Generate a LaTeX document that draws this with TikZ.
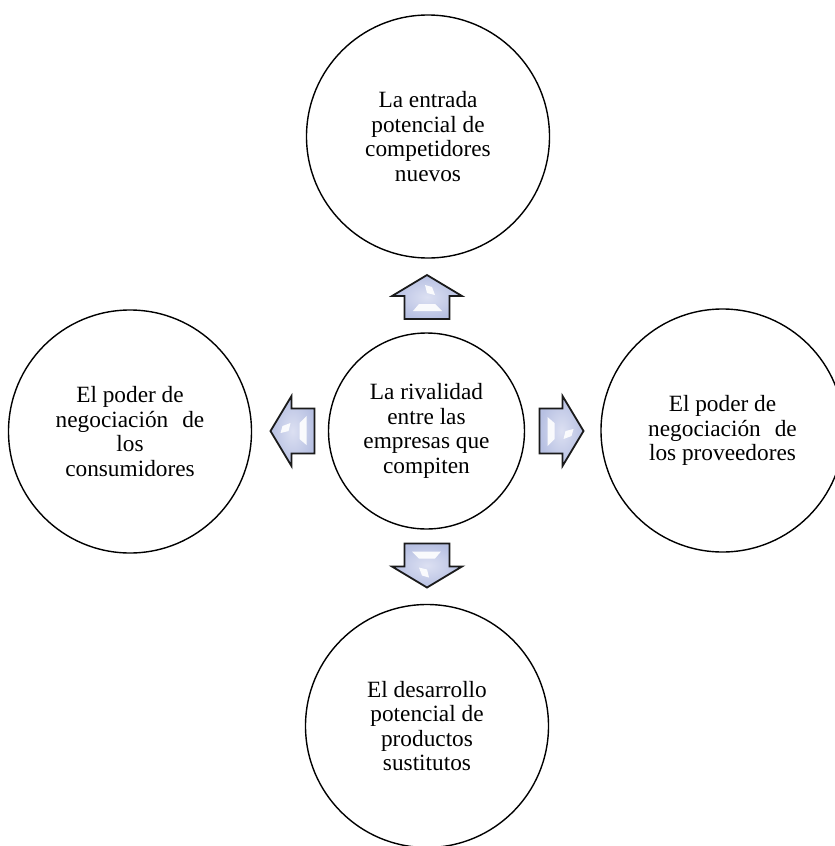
\documentclass[tikz,border=0pt]{standalone}
\usepackage{fontspec}
\setmainfont{Liberation Serif}
\definecolor{arrowfill}{HTML}{B7C0E2}
\definecolor{arrowlight}{HTML}{DCE0F2}
\definecolor{arrowline}{HTML}{1A1A1A}
\tikzset{
  circ/.style={circle, draw=black, line width=1.4pt, minimum size=243pt, inner sep=0pt,
    align=center, font=\fontsize{23.3}{24.6}\selectfont},
  ctr/.style={circ, minimum size=196pt},
  arrbody/.style={inner color=arrowlight, outer color=arrowfill, draw=arrowline, line width=1.8pt, line join=miter},
  arrhi/.style={fill=white, draw=none, opacity=0.9},
}
\newcommand{\bevelarrow}[3]{%
  \begin{scope}[shift={(#1,#2)}, rotate=#3]
    \draw[arrbody] (0,-22) -- (35,-1) -- (22.5,-1) -- (22.5,22) -- (-22.5,22) -- (-22.5,-1) -- (-35,-1) -- cycle;
    \fill[arrhi] (-8,7) -- (8,7) -- (15,14) -- (-14,14) -- cycle;
    \fill[arrhi] (-2,-12) -- (5,-10) -- (8,-2) -- (0,-4) -- cycle;
  \end{scope}}
\begin{document}
\begin{tikzpicture}[x=1pt, y=-1pt]
  \useasboundingbox (0,0) rectangle (835,846);
  \node[circ] (top) at (428,136.5) {La entrada\\potencial de\\competidores\\nuevos};
  \node[circ] (left) at (130,431.5) {El poder de\\negociación\hspace{0.35em} de\\los\\consumidores};
  \node[circ] (right) at (722.5,430.5) {El poder de\\negociación\hspace{0.35em} de\\los proveedores};
  \node[circ] (bottom) at (427,726) {El desarrollo\\potencial de\\productos\\sustitutos};
  \node[ctr] (center) at (426.5,431) {La rivalidad\\entre las\\empresas que\\compiten};
  \bevelarrow{427}{297}{0}
  \bevelarrow{292.5}{431}{90}
  \bevelarrow{561.5}{431}{-90}
  \bevelarrow{427}{565.5}{180}
\end{tikzpicture}
\end{document}
